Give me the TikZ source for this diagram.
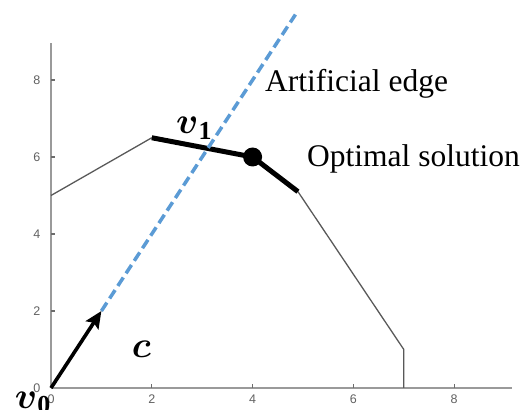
\RequirePackage{fix-cm}
\documentclass[tikz,border=0pt]{standalone}
\usepackage{amsmath}
\usepackage{fontspec}
\setmainfont{Liberation Serif}
\newfontfamily\ticksf{Liberation Sans}
\usetikzlibrary{arrows.meta}
\definecolor{dashblue}{HTML}{5B9BD5}
\definecolor{axisgray}{HTML}{9A9A9A}
\tikzset{
  axisline/.style={draw=axisgray, line width=2.5pt},
  tickmark/.style={draw=axisgray!70!black, line width=1.3pt},
  ticklbl/.style={font=\ticksf\fontsize{12.5}{13}\selectfont, text=black!62, inner sep=0pt},
  thinedge/.style={draw=black!65, line width=1.3pt},
  thickedge/.style={draw=black, line width=5pt, line join=round},
  artedge/.style={draw=dashblue, line width=3.5pt, dash pattern=on 10pt off 5pt},
  cvec/.style={draw=black, line width=3.6pt, -{Stealth[length=17pt,width=15pt,inset=3pt]}},
  bigtext/.style={font=\fontsize{31.5}{34}\selectfont, inner sep=0pt},
  mathlbl/.style={font=\fontsize{37}{40}\selectfont, inner sep=0pt},
  optdot/.style={circle, fill=black, minimum size=19pt, inner sep=0pt}
}
\begin{document}
\begin{tikzpicture}[x=50.4pt,y=38.5pt]
\useasboundingbox (-1.012,-0.571) rectangle (9.385,10.078);
% axes
\coordinate (O) at (0,0);
\coordinate (xend) at (9.15,0);
\coordinate (yend) at (0,8.96);
\draw[axisline] (O) -- (xend);
\draw[axisline] (O) -- (yend);
\foreach \t in {2,4,6,8}{
  \draw[tickmark] (\t,0) -- ++(0,0.1);
  \draw[tickmark] (0,\t) -- ++(0.08,0);
}
\foreach \t in {0,2,4,6,8}{
  \node[ticklbl] (xl\t) at (\t,-0.3) {\t};
  \node[ticklbl] (yl\t) at (-0.28,\t) {\t};
}
% polygon
\coordinate (p1) at (0,5);
\coordinate (p2) at (2,6.5);
\coordinate (p3) at (4,6);
\coordinate (p4) at (4.9,5.1);
\coordinate (p5) at (7,1);
\coordinate (p6) at (7,0);
\draw[thinedge] (p1) -- (p2);
\draw[thinedge] (p4) -- (p5) -- (p6);
\draw[thickedge] (p2) -- (p3) -- (p4);
% artificial edge
\coordinate (cend) at (1,2);
\coordinate (atop) at (4.85,9.7);
\draw[artedge] (cend) -- (atop);
\draw[cvec] (O) -- (cend);
\node[optdot] (opt) at (p3) {};
% labels
\node[bigtext, anchor=base west] (lae) at (4.246,7.69) {Artificial edge};
\node[bigtext, anchor=base west] (los) at (5.079,5.766) {Optimal solution};
\node[mathlbl, anchor=base west] (lv1) at (2.48,6.6) {$\boldsymbol{v}_{\mathbf{1}}$};
\node[mathlbl, anchor=base west] (lc) at (1.6,0.8) {$\boldsymbol{c}$};
\node[mathlbl, anchor=base west] (lv0) at (-0.72,-0.52) {$\boldsymbol{v}_{\mathbf{0}}$};
\end{tikzpicture}
\end{document}
